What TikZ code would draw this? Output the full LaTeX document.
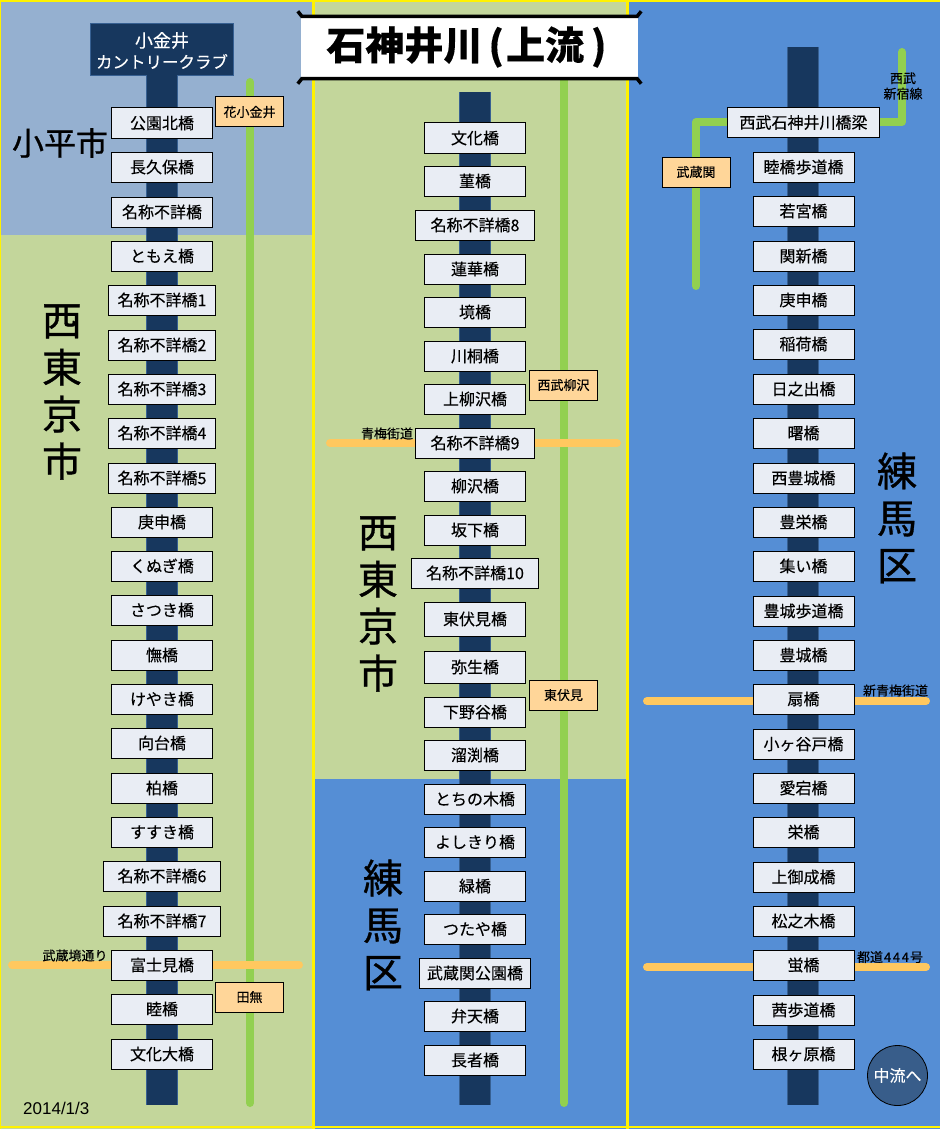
\documentclass[tikz,border=0pt]{standalone}
\usepackage{fontspec}
\setmainfont{Noto Sans CJK JP}[FakeBold=0.25]
\newfontfamily\wardfont{Noto Sans CJK JP}[FakeBold=0.8]
\newfontfamily\datefont{Liberation Sans}
\definecolor{panelgray}{HTML}{95B0D0}
\definecolor{panelgreen}{HTML}{C3D69B}
\definecolor{panelblue}{HTML}{558ED5}
\definecolor{rivernavy}{HTML}{17375E}
\definecolor{riveredge}{HTML}{376092}
\definecolor{bridgefill}{HTML}{E9EDF4}
\definecolor{stationfill}{HTML}{FFD699}
\definecolor{trainline}{HTML}{92D050}
\definecolor{roadline}{HTML}{FFC85F}
\definecolor{nextfill}{HTML}{385D8A}

\begin{document}
\begin{tikzpicture}[x=1pt, y=-1pt,
    river/.style={draw=rivernavy, line width=30pt, preaction={draw=riveredge, line width=32pt}},
    train/.style={draw=trainline, line width=8pt, line cap=round, line join=round},
    road/.style={draw=roadline, line width=8pt, line cap=round},
    seam/.style={draw=yellow, line width=2.2pt},
    bridge/.style={draw=black, fill=bridgefill, line width=1pt, minimum width=101pt, minimum height=30pt, inner sep=0pt, font=\fontsize{16}{18}\selectfont},
    station/.style={draw=black, fill=stationfill, line width=1pt, minimum width=68pt, minimum height=30pt, inner sep=0pt, font=\fontsize{13}{15}\selectfont},
    roadlabel/.style={inner sep=0pt, align=center, font=\fontsize{13}{15.5}\selectfont},
    ward/.style={inner sep=0pt, align=center, font=\wardfont\fontsize{40}{47}\selectfont}]

    \useasboundingbox (0,0) rectangle (940,1129);

    % ward panels
    \fill[panelgray] (0,0) rectangle (313,235);
    \fill[panelgreen] (0,235) rectangle (313,1129);
    \fill[panelgreen] (313,0) rectangle (627,779);
    \fill[panelblue] (313,779) rectangle (627,1129);
    \fill[panelblue] (627,0) rectangle (940,1129);
    \draw[seam] (0,1) -- (940,1);
    \draw[seam] (0,1127) -- (940,1127);
    \draw[seam] (313.5,0) -- (313.5,1129);
    \draw[seam] (627.5,0) -- (627.5,1129);
    \draw[seam, line width=1pt] (0.5,0) -- (0.5,1129);

    % rivers
    \node[fill=rivernavy, draw=riveredge, line width=.5pt, minimum width=143pt, minimum height=52pt, inner sep=0pt] (head) at (162,49) {};
    \node[inner sep=0pt, align=center, text=white, font=\fontsize{16.5}{21}\selectfont] (headtext) at (162,50.5) {{\fontsize{18}{21}\selectfont 小金井}\\カントリークラブ};
    \coordinate (leftend) at (162,1105);
    \coordinate (midtop) at (475,92);
    \coordinate (midend) at (475,1105);
    \coordinate (righttop) at (803,47);
    \coordinate (rightend) at (803,1105);
    \draw[river] (head.south) -- (leftend);
    \draw[river] (midtop) -- (midend);
    \draw[river] (righttop) -- (rightend);

    % railway
    \coordinate (seibua) at (250,82);
    \coordinate (seibub) at (250,1103);
    \coordinate (seibuc) at (564,70);
    \coordinate (seibud) at (564,1103);
    \coordinate (shinjukua) at (696,286);
    \coordinate (shinjukub) at (696,122);
    \coordinate (shinjukuc) at (902,122);
    \coordinate (shinjukud) at (902,52);
    \draw[train] (seibua) -- (seibub);
    \draw[train] (seibuc) -- (seibud);
    \draw[train] (shinjukua) -- (shinjukub) -- (shinjukuc) -- (shinjukud);

    % roads
    \coordinate (sakaia) at (12,965);
    \coordinate (sakaib) at (299,965);
    \coordinate (omea) at (330,443);
    \coordinate (omeb) at (617,443);
    \coordinate (shinomea) at (647,701);
    \coordinate (shinomeb) at (926,701);
    \coordinate (toa) at (647,967);
    \coordinate (tob) at (926,967);
    \draw[road] (sakaia) -- (sakaib);
    \draw[road] (omea) -- (omeb);
    \draw[road] (shinomea) -- (shinomeb);
    \draw[road] (toa) -- (tob);

    % title
    \node[fill=white, minimum width=337pt, minimum height=60pt, inner sep=0pt] (title) at (469.5,47.5) {};
    \draw[line width=3.5pt] ([shift={(-3,-6)}]title.north west) -- ([shift={(1,-1)}]title.north west) -- ([shift={(-1,-1)}]title.north east) -- ([shift={(3,-6)}]title.north east);
    \draw[line width=3.5pt] ([shift={(-3,6)}]title.south west) -- ([shift={(1,1)}]title.south west) -- ([shift={(-1,1)}]title.south east) -- ([shift={(3,6)}]title.south east);
    \node[inner sep=0pt, font=\fontsize{39}{42}\selectfont\bfseries] (titletext) at (466.5,47) {石神井川\hspace{6pt}(\hspace{2pt}上流\hspace{7pt})};

    % left bridges
    \node[bridge] (l1) at (162,123) {公園北橋};
    \node[bridge] (l2) at (162,167) {長久保橋};
    \node[bridge] (l3) at (162,212) {名称不詳橋};
    \node[bridge] (l4) at (162,256) {ともえ橋};
    \node[bridge, minimum width=107pt] (l5) at (162,300) {名称不詳橋1};
    \node[bridge, minimum width=107pt] (l6) at (162,345) {名称不詳橋2};
    \node[bridge, minimum width=107pt] (l7) at (162,389) {名称不詳橋3};
    \node[bridge, minimum width=107pt] (l8) at (162,433) {名称不詳橋4};
    \node[bridge, minimum width=107pt] (l9) at (162,478) {名称不詳橋5};
    \node[bridge] (l10) at (162,522) {庚申橋};
    \node[bridge] (l11) at (162,566) {くぬぎ橋};
    \node[bridge] (l12) at (162,610) {さつき橋};
    \node[bridge] (l13) at (162,655) {憮橋};
    \node[bridge] (l14) at (162,699) {けやき橋};
    \node[bridge] (l15) at (162,743) {向台橋};
    \node[bridge] (l16) at (162,788) {柏橋};
    \node[bridge] (l17) at (162,832) {すすき橋};
    \node[bridge, minimum width=117pt] (l18) at (162,876) {名称不詳橋6};
    \node[bridge, minimum width=117pt] (l19) at (162,921) {名称不詳橋7};
    \node[bridge] (l20) at (162,965) {富士見橋};
    \node[bridge] (l21) at (162,1009) {睦橋};
    \node[bridge] (l22) at (162,1054) {文化大橋};

    % middle bridges
    \node[bridge] (m1) at (475,138) {文化橋};
    \node[bridge] (m2) at (475,181) {菫橋};
    \node[bridge, minimum width=119pt] (m3) at (475,225) {名称不詳橋8};
    \node[bridge] (m4) at (475,269) {蓮華橋};
    \node[bridge] (m5) at (475,312) {境橋};
    \node[bridge] (m6) at (475,356) {川桐橋};
    \node[bridge] (m7) at (475,399) {上柳沢橋};
    \node[bridge, minimum width=119pt] (m8) at (475,443) {名称不詳橋9};
    \node[bridge] (m9) at (475,486) {柳沢橋};
    \node[bridge] (m10) at (475,530) {坂下橋};
    \node[bridge, minimum width=127pt] (m11) at (475,573) {名称不詳橋10};
    \node[bridge, minimum height=34pt] (m12) at (475,619) {東伏見橋};
    \node[bridge, minimum height=32pt] (m13) at (475,667) {弥生橋};
    \node[bridge] (m14) at (475,712) {下野谷橋};
    \node[bridge] (m15) at (475,755) {溜渕橋};
    \node[bridge] (m16) at (475,799) {とちの木橋};
    \node[bridge] (m17) at (475,842) {よしきり橋};
    \node[bridge] (m18) at (475,886) {緑橋};
    \node[bridge] (m19) at (475,929) {つたや橋};
    \node[bridge, minimum width=111pt] (m20) at (475,973) {武蔵関公園橋};
    \node[bridge] (m21) at (475,1016) {弁天橋};
    \node[bridge] (m22) at (475,1060) {長者橋};

    % right bridges
    \node[bridge, minimum width=152pt] (r1) at (803.5,122.5) {西武石神井川橋梁};
    \node[bridge] (r2) at (803.5,167) {睦橋歩道橋};
    \node[bridge] (r3) at (803.5,211) {若宮橋};
    \node[bridge] (r4) at (803.5,256) {関新橋};
    \node[bridge] (r5) at (803.5,300) {庚申橋};
    \node[bridge] (r6) at (803.5,344) {稲荷橋};
    \node[bridge] (r7) at (803.5,389) {日之出橋};
    \node[bridge] (r8) at (803.5,433) {曙橋};
    \node[bridge] (r9) at (803.5,478) {西豊城橋};
    \node[bridge] (r10) at (803.5,522) {豊栄橋};
    \node[bridge] (r11) at (803.5,566) {集い橋};
    \node[bridge] (r12) at (803.5,611) {豊城歩道橋};
    \node[bridge] (r13) at (803.5,655) {豊城橋};
    \node[bridge] (r14) at (803.5,699) {扇橋};
    \node[bridge] (r15) at (803.5,744) {小ヶ谷戸橋};
    \node[bridge] (r16) at (803.5,788) {愛宕橋};
    \node[bridge] (r17) at (803.5,832) {栄橋};
    \node[bridge] (r18) at (803.5,877) {上御成橋};
    \node[bridge] (r19) at (803.5,921) {松之木橋};
    \node[bridge] (r20) at (803.5,965) {蛍橋};
    \node[bridge] (r21) at (803.5,1010) {茜歩道橋};
    \node[bridge] (r22) at (803.5,1054) {根ヶ原橋};

    % stations
    \node[station] (hanakoganei) at (249.5,112) {花小金井};
    \node[station] (tanashi) at (249.5,997) {田無};
    \node[station] (yagisawa) at (563.5,385) {西武柳沢};
    \node[station] (higashifushimi) at (563.5,695) {東伏見};
    \node[station] (musashiseki) at (696,172) {武蔵関};

    % road and line labels
    \node[roadlabel] (sakailabel) at (75,955.5) {武蔵境通り};
    \node[roadlabel] (omelabel) at (387,433.5) {青梅街道};
    \node[roadlabel] (shinomelabel) at (895.5,690.5) {新青梅街道};
    \node[roadlabel] (tolabel) at (890,957) {都道\kern1pt 4\kern1.7pt 4\kern1.7pt 4\kern1pt 号};
    \node[roadlabel] (shinjukulabel) at (903,86) {西武\\新宿線};

    % wards
    \node[inner sep=0pt, font=\wardfont\fontsize{32}{36}\selectfont] (kodaira) at (60,143) {小平市};
    \node[ward] (nishitokyoa) at (62,392) {西\\東\\京\\市};
    \node[ward] (nishitokyob) at (378,604) {西\\東\\京\\市};
    \node[ward] (nerimaa) at (383,925) {練\\馬\\区};
    \node[ward] (nerimab) at (897,518) {練\\馬\\区};

    % date and next sheet
    \node[inner sep=0pt, anchor=west, font=\datefont\fontsize{17}{18}\selectfont] (date) at (23,1108) {2014/1/3};
    \node[circle, draw=black, fill=nextfill, line width=.8pt, minimum size=60pt, inner sep=0pt, text=white, font=\fontsize{16}{18}\selectfont] (next) at (897.5,1075.5) {中流へ};
\end{tikzpicture}
\end{document}
